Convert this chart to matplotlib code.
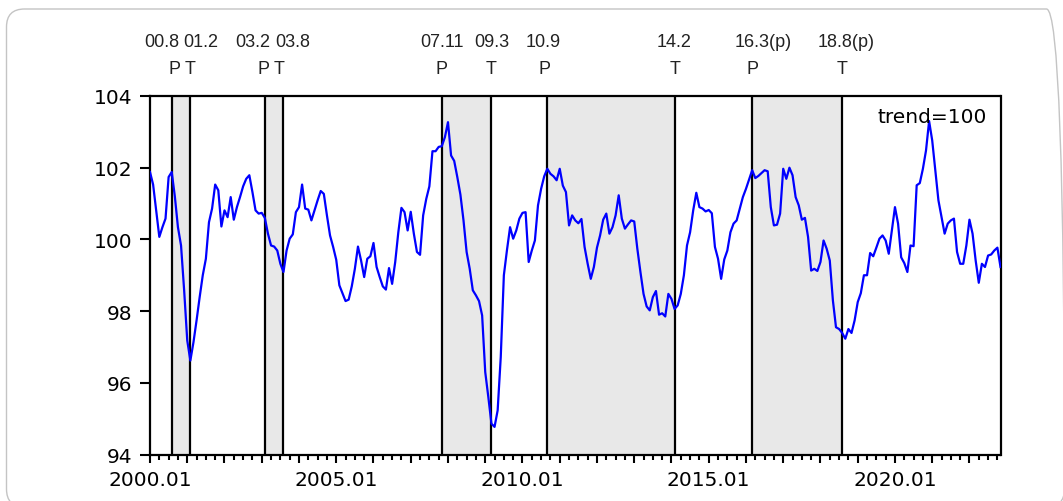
import matplotlib
matplotlib.use('Agg')
import matplotlib.pyplot as plt
from matplotlib import font_manager
from matplotlib.patches import FancyBboxPatch
from matplotlib.transforms import IdentityTransform
from matplotlib.ticker import FixedLocator, FixedFormatter

# ---------------- data ----------------
start_year = 2000
values = [
    101.88, 101.53, 100.80, 100.07, 100.34, 100.58, 101.74, 101.88, 101.20, 100.34,
    99.83, 98.58, 97.18, 96.62, 97.13, 97.74, 98.39, 99.00, 99.46, 100.48,
    100.86, 101.53, 101.37, 100.36, 100.81, 100.62, 101.18, 100.55, 100.90, 101.18,
    101.48, 101.69, 101.79, 101.32, 100.81, 100.72, 100.74, 100.60, 100.16, 99.83,
    99.80, 99.69, 99.32, 99.09, 99.69, 100.02, 100.14, 100.76, 100.90, 101.53,
    100.86, 100.83, 100.53, 100.81, 101.09, 101.35, 101.27, 100.67, 100.11, 99.79,
    99.43, 98.72, 98.50, 98.28, 98.32, 98.69, 99.18, 99.80, 99.41, 98.95,
    99.46, 99.53, 99.90, 99.23, 98.95, 98.69, 98.60, 99.20, 98.76, 99.37,
    100.20, 100.88, 100.76, 100.25, 100.77, 100.16, 99.65, 99.57, 100.67, 101.13,
    101.48, 102.46, 102.46, 102.58, 102.60, 102.85, 103.27, 102.34, 102.19, 101.74,
    101.25, 100.53, 99.65, 99.18, 98.58, 98.44, 98.28, 97.88, 96.30, 95.60,
    94.86, 94.77, 95.23, 96.72, 99.00, 99.70, 100.34, 100.02, 100.25, 100.58,
    100.74, 100.76, 99.37, 99.69, 99.97, 100.95, 101.41, 101.76, 101.97, 101.83,
    101.76, 101.65, 101.97, 101.50, 101.32, 100.39, 100.67, 100.53, 100.45, 100.57,
    99.79, 99.32, 98.90, 99.23, 99.77, 100.11, 100.55, 100.72, 100.16, 100.34,
    100.67, 101.23, 100.58, 100.30, 100.42, 100.53, 100.50, 99.74, 99.09, 98.48,
    98.13, 98.02, 98.39, 98.56, 97.90, 97.94, 97.85, 98.48, 98.34, 98.06,
    98.16, 98.48, 99.00, 99.83, 100.20, 100.81, 101.30, 100.90, 100.86, 100.78,
    100.82, 100.73, 99.79, 99.46, 98.90, 99.44, 99.69, 100.20, 100.44, 100.53,
    100.86, 101.18, 101.41, 101.67, 101.93, 101.71, 101.77, 101.85, 101.93, 101.90,
    100.90, 100.39, 100.41, 100.72, 101.97, 101.69, 102.00, 101.79, 101.18, 100.95,
    100.55, 100.60, 100.07, 99.13, 99.18, 99.12, 99.37, 99.97, 99.74, 99.41,
    98.30, 97.55, 97.50, 97.39, 97.23, 97.50, 97.39, 97.74, 98.25, 98.50,
    99.00, 99.00, 99.62, 99.53, 99.77, 100.02, 100.11, 99.97, 99.60, 100.25,
    100.90, 100.44, 99.50, 99.34, 99.09, 99.83, 99.81, 101.51, 101.57, 101.97,
    102.48, 103.30, 102.76, 101.93, 101.09, 100.62, 100.16, 100.44, 100.53, 100.58,
    99.65, 99.32, 99.32, 99.83, 100.55, 100.16, 99.41, 98.79, 99.32, 99.23,
    99.55, 99.58, 99.69, 99.77, 99.23,
]
event_dates = ["00.8", "01.2", "03.2", "03.8", "07.11", "09.3", "10.9", "14.2", "16.3(p)", "18.8(p)"]
event_types = ["P", "T", "P", "T", "P", "T", "P", "T", "P", "T"]
year_labels = ["2000.01", "2005.01", "2010.01", "2015.01", "2020.01"]
y_ticks = [94, 96, 98, 100, 102, 104]
note_text = "trend=100"

# ---------------- fonts ----------------
names = {f.name for f in font_manager.fontManager.ttflist}
if 'Liberation Sans Narrow' in names:
    narrow = 'Liberation Sans Narrow'
    narrow_size = 15
else:
    narrow = 'Liberation Sans'
    narrow_size = 13
wide = 'DejaVu Sans'
tick_size = 14.5

# ---------------- figure ----------------
W, H, DPI = 1063, 502, 100
fig = plt.figure(figsize=(W / DPI, H / DPI), dpi=DPI)
fig.patch.set_facecolor('white')

# rounded light border around the picture (display pixels, origin bottom-left)
border = FancyBboxPatch((6.5, -6.0), 1058.0, 498.0,
                        boxstyle="round,pad=0,rounding_size=18",
                        transform=IdentityTransform(), fill=False,
                        edgecolor='#c4c4c4', linewidth=1.0)
fig.add_artist(border)

ax = fig.add_axes([150 / W, 1 - 455.5 / H, 850.5 / W, 358.5 / H])

x = list(range(len(values)))


def month_index(lbl):
    core = lbl.replace('(p)', '')
    yy, mm = core.split('.')
    return int(yy) * 12 + int(mm) - 1


event_m = [month_index(d) for d in event_dates]

# shaded P->T regions
for i in range(0, len(event_m), 2):
    ax.axvspan(event_m[i], event_m[i + 1], color='#e8e8e8', lw=0, zorder=0)
for m in event_m:
    ax.axvline(m, color='black', lw=1.6, zorder=1)

ax.plot(x, values, color='#0000ff', lw=1.6, zorder=3)

ax.set_xlim(0, len(values) - 1)
ax.set_ylim(94, 104)

# y axis
ax.set_yticks(y_ticks)
ax.set_yticklabels([str(v) for v in y_ticks])

# x axis: year ticks (major) and quarter ticks (minor)
n_years = (len(values) - 1) // 12 + 1
year_pos = [12 * k for k in range(n_years)]
year_lbls = [''] * n_years
for lbl in year_labels:
    k = int(lbl.split('.')[0]) - start_year
    if k < n_years:
        year_lbls[k] = lbl
ax.xaxis.set_major_locator(FixedLocator(year_pos))
ax.xaxis.set_major_formatter(FixedFormatter(year_lbls))
ax.xaxis.set_minor_locator(FixedLocator([q for q in range(0, len(values), 3) if q % 12 != 0]))

ax.tick_params(axis='y', direction='out', length=7, width=1.5, pad=6,
               labelsize=tick_size, labelcolor='black')
ax.tick_params(axis='x', which='major', direction='out', length=5.5, width=1.5,
               pad=5.5, labelsize=tick_size)
ax.tick_params(axis='x', which='minor', direction='out', length=3.5, width=1.5)
for lab in ax.get_xticklabels() + ax.get_yticklabels():
    lab.set_family(wide)

for s in ax.spines.values():
    s.set_linewidth(1.6)
    s.set_color('black')

ax.text(0.984, 0.944, note_text, transform=ax.transAxes, ha='right', va='center',
        fontsize=tick_size, family=wide, zorder=5)

# labels above
date_dx = [-10, 10, -12, 9, 0, 0, -4, -1, 11, 4]   # pixel offsets
type_dx = [3, 0, -1, -4, 0, 0, -3, 0, 0, 0]
for m, d, t, ddx, tdx in zip(event_m, event_dates, event_types, date_dx, type_dx):
    ax.annotate(d, xy=(m, 1.0), xycoords=('data', 'axes fraction'),
                xytext=(ddx * 0.72, 54 * 0.72), textcoords='offset points',
                ha='center', va='center', fontsize=narrow_size, family=narrow,
                color='#222222', annotation_clip=False)
    ax.annotate(t, xy=(m, 1.0), xycoords=('data', 'axes fraction'),
                xytext=(tdx * 0.72, 27 * 0.72), textcoords='offset points',
                ha='center', va='center', fontsize=narrow_size, family=narrow,
                color='#222222', annotation_clip=False)

fig.savefig('out.png', dpi=DPI, facecolor='white')
